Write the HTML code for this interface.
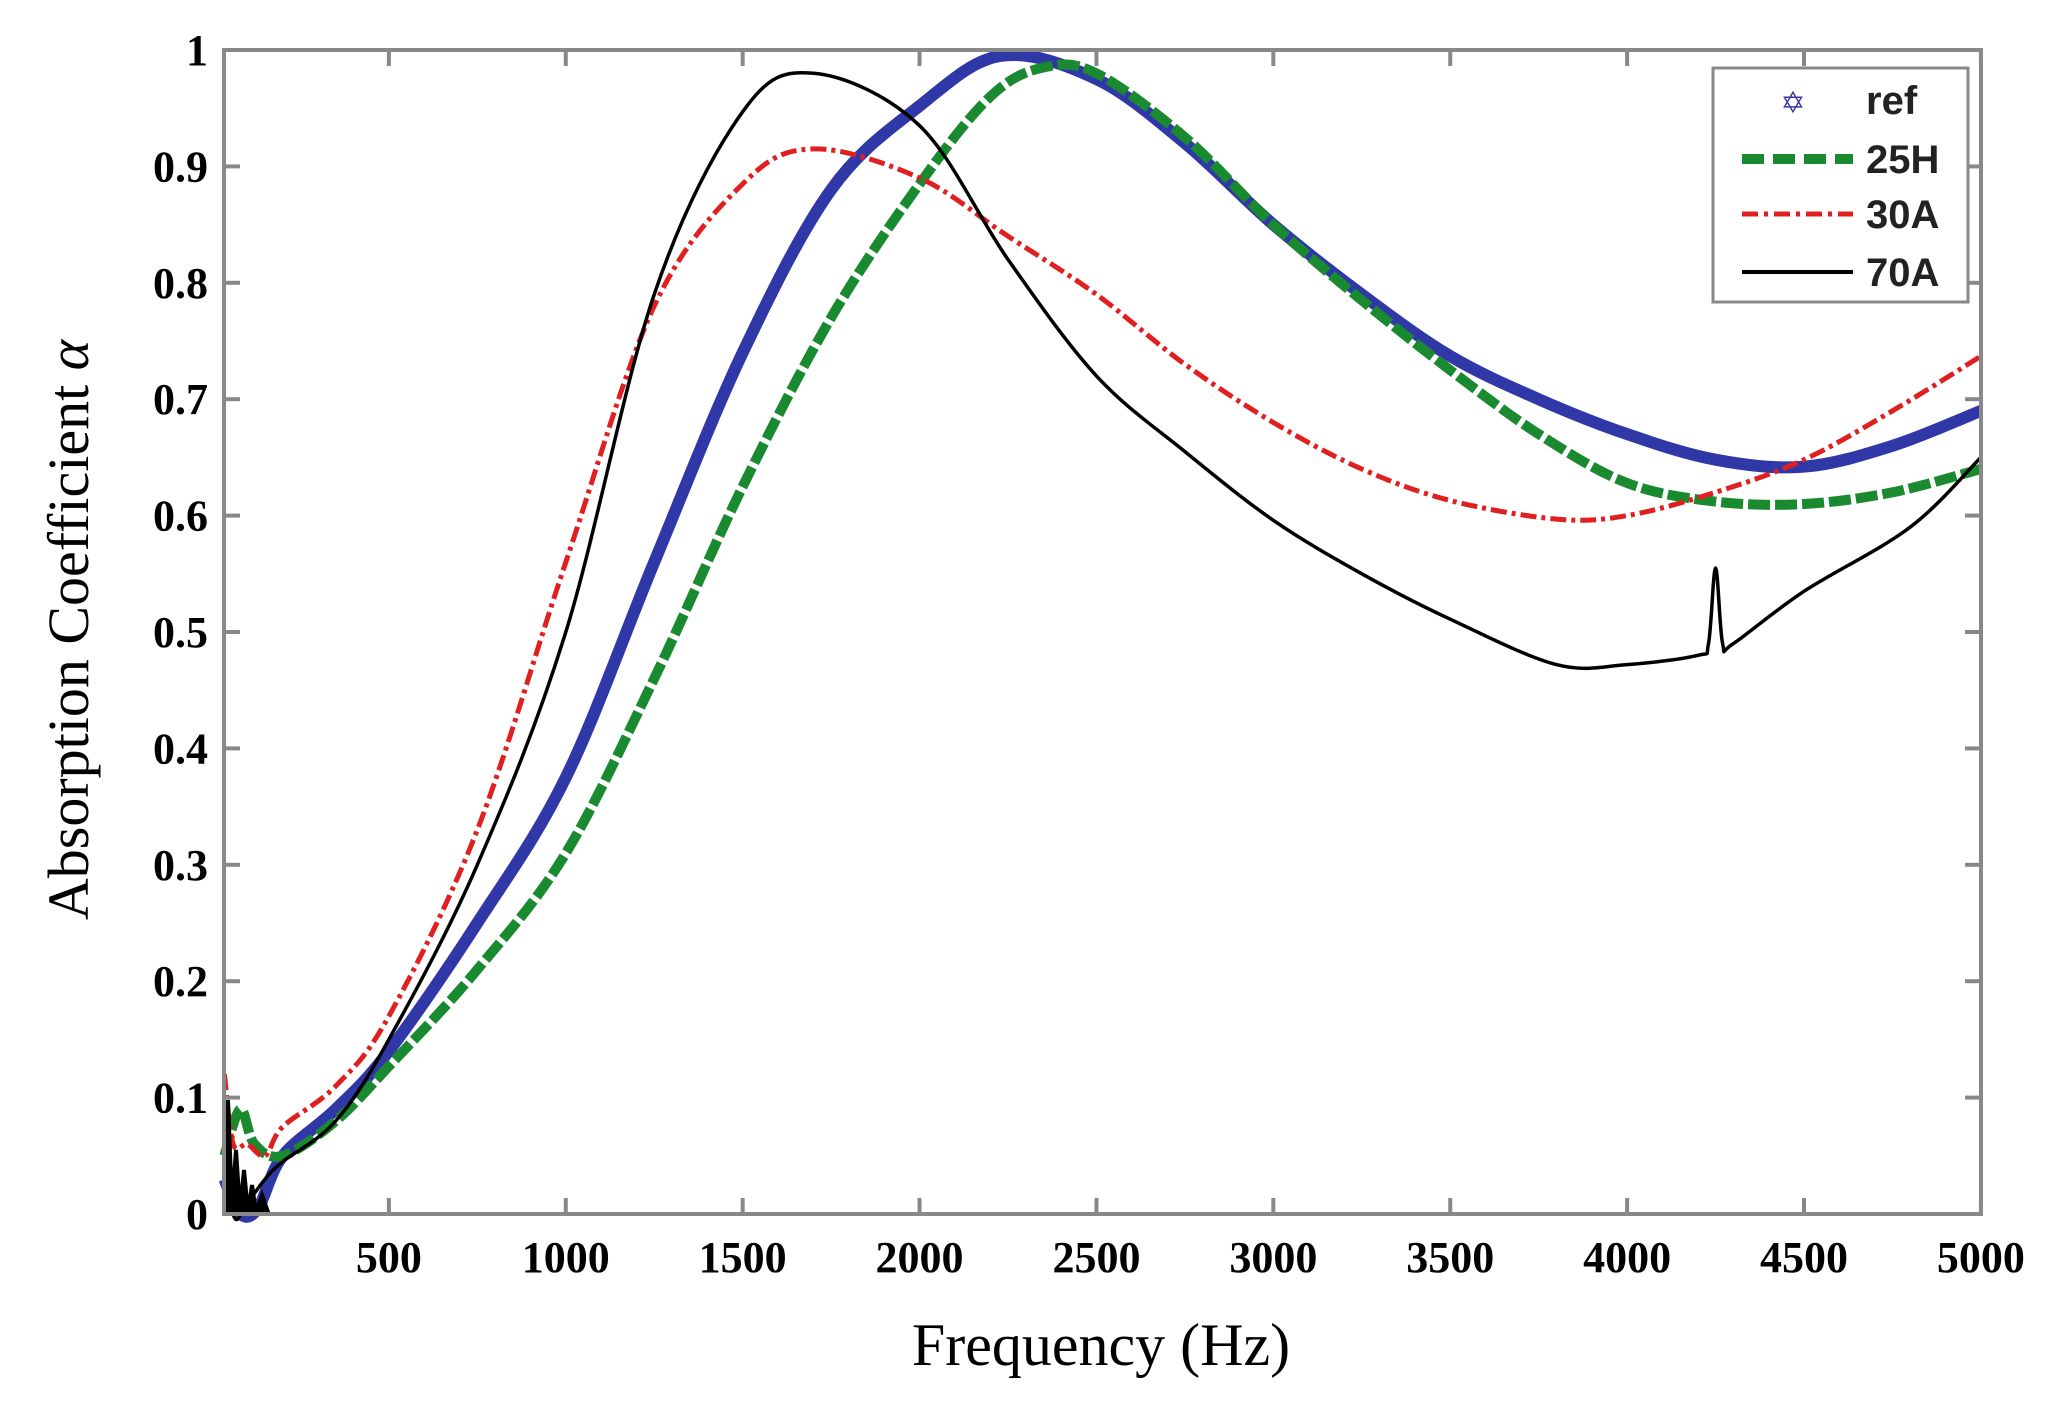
<!DOCTYPE html>
<html><head><meta charset="utf-8"><style>
html,body{margin:0;padding:0;background:#fff}
svg{display:block}
.t{font-family:"Liberation Serif",serif;font-weight:bold;font-size:44px;fill:#000}
</style></head><body>
<svg id="s" width="2061" height="1407" xmlns="http://www.w3.org/2000/svg">
<rect width="2061" height="1407" fill="#fff"/>
<g id="curves"></g>
<rect x="224" y="50" width="1757" height="1164" fill="none" stroke="#888" stroke-width="4"/>
<g id="ticks" stroke="#888" stroke-width="4"></g>
<g id="labels"></g>
<text x="88" y="630" transform="rotate(-90 88 630)" text-anchor="middle" font-family="Liberation Serif,serif" font-size="58">Absorption Coefficient <tspan font-style="italic">α</tspan></text>
<text x="1101" y="1365" text-anchor="middle" font-family="Liberation Serif,serif" font-size="60">Frequency (Hz)</text>
<rect x="1713" y="68" width="255" height="234" fill="#fff" stroke="#888" stroke-width="3"/>
<text x="1793" y="113" font-family="DejaVu Sans,sans-serif" font-size="30" fill="#3a3aa0" text-anchor="middle">✡</text>
<line x1="1742" y1="159" x2="1853" y2="159" stroke="#1a8a30" stroke-width="10" stroke-dasharray="22,9"/>
<line x1="1742" y1="214" x2="1853" y2="214" stroke="#e02020" stroke-width="5" stroke-dasharray="16,6,4,6"/>
<line x1="1742" y1="272" x2="1853" y2="272" stroke="#000" stroke-width="4"/>
<g font-family="Liberation Sans,sans-serif" font-size="40" font-weight="bold" fill="#222">
<text x="1866" y="114">ref</text><text x="1866" y="173">25H</text><text x="1866" y="228">30A</text><text x="1866" y="286">70A</text></g>
</svg>
<script>
const X=f=>212+f*0.35378, Y=a=>1214-1164*a;
const NS="http://www.w3.org/2000/svg";
const tk=document.getElementById('ticks'), lb=document.getElementById('labels');
function el(p,tag,at,txt){const e=document.createElementNS(NS,tag);for(const k in at)e.setAttribute(k,at[k]);if(txt)e.textContent=txt;p.appendChild(e);}
for(let f=500;f<=5000;f+=500){const x=X(f);el(tk,'line',{x1:x,y1:1214,x2:x,y2:1198});el(tk,'line',{x1:x,y1:50,x2:x,y2:66});
el(lb,'text',{class:'t',x:x,y:1272,'text-anchor':'middle'},String(f));}
for(let i=0;i<=10;i++){const a=i/10,y=Y(a);el(tk,'line',{x1:224,y1:y,x2:240,y2:y});el(tk,'line',{x1:1981,y1:y,x2:1965,y2:y});
el(lb,'text',{class:'t',x:208,y:y+15,'text-anchor':'end'},i==10?'1':i==0?'0':(a.toFixed(1)));}
function path(pts){
 const P=pts.map(p=>[X(p[0]),Y(p[1])]);
 let d='M'+P[0][0].toFixed(1)+','+P[0][1].toFixed(1);
 for(let i=0;i<P.length-1;i++){const p0=P[Math.max(0,i-1)],p1=P[i],p2=P[i+1],p3=P[Math.min(P.length-1,i+2)];
  const c1=[p1[0]+(p2[0]-p0[0])/6,p1[1]+(p2[1]-p0[1])/6],c2=[p2[0]-(p3[0]-p1[0])/6,p2[1]-(p3[1]-p1[1])/6];
  d+=' C'+c1.map(v=>v.toFixed(1))+' '+c2.map(v=>v.toFixed(1))+' '+p2.map(v=>v.toFixed(1));}
 return d;}
const g=document.getElementById('curves');
const blue=[[35,0.03],[80,0.0],[130,0.005],[200,0.05],[350,0.09],[500,0.14],[750,0.25],[1000,0.375],[1250,0.56],[1500,0.74],[1750,0.88],[2000,0.952],[2230,0.995],[2500,0.975],[2750,0.92],[3000,0.85],[3250,0.79],[3500,0.737],[3750,0.70],[4000,0.67],[4250,0.648],[4500,0.642],[4750,0.66],[5000,0.69]];
const green=[[35,0.05],[80,0.09],[120,0.06],[200,0.05],[350,0.08],[500,0.127],[750,0.21],[1000,0.31],[1250,0.46],[1500,0.625],[1750,0.77],[2000,0.885],[2200,0.96],[2350,0.985],[2500,0.98],[2750,0.925],[3000,0.85],[3250,0.785],[3500,0.725],[3750,0.67],[4000,0.628],[4250,0.612],[4500,0.61],[4750,0.62],[5000,0.64]];
const red=[[35,0.12],[60,0.06],[100,0.06],[150,0.05],[200,0.075],[350,0.11],[500,0.17],[750,0.33],[1000,0.56],[1250,0.78],[1500,0.885],[1700,0.915],[2000,0.89],[2250,0.84],[2500,0.79],[2750,0.73],[3000,0.68],[3250,0.64],[3500,0.613],[3800,0.597],[4000,0.60],[4250,0.62],[4500,0.648],[4750,0.69],[5000,0.737]];
const black=[[35,0.09],[60,0.0],[100,0.01],[150,0.03],[200,0.045],[350,0.08],[500,0.15],[750,0.30],[1000,0.50],[1250,0.79],[1500,0.947],[1700,0.98],[2000,0.935],[2250,0.82],[2500,0.72],[2750,0.655],[3000,0.596],[3250,0.55],[3500,0.511],[3800,0.472],[4000,0.472],[4200,0.48],[4230,0.49],[4250,0.555],[4270,0.49],[4300,0.49],[4500,0.535],[4800,0.59],[5000,0.65]];
el(g,'path',{d:path(blue),fill:'none',stroke:'#3038a8',"stroke-width":12,"stroke-linejoin":"round"});
el(g,'path',{d:path(green),fill:'none',stroke:'#1a8a30',"stroke-width":10,"stroke-dasharray":"22,5"});
el(g,'path',{d:path(red),fill:'none',stroke:'#e02020',"stroke-width":5,"stroke-dasharray":"16,5,4,5"});
el(g,'path',{d:path(black),fill:'none',stroke:'#000',"stroke-width":3.5});
el(g,'path',{d:'M226,1212 L228,1100 L232,1205 L236,1150 L240,1210 L244,1170 L248,1212 L252,1185 L256,1212 L262,1195 L268,1212 Z',fill:'#000',stroke:'#000','stroke-width':4});
</script>
</body></html>
